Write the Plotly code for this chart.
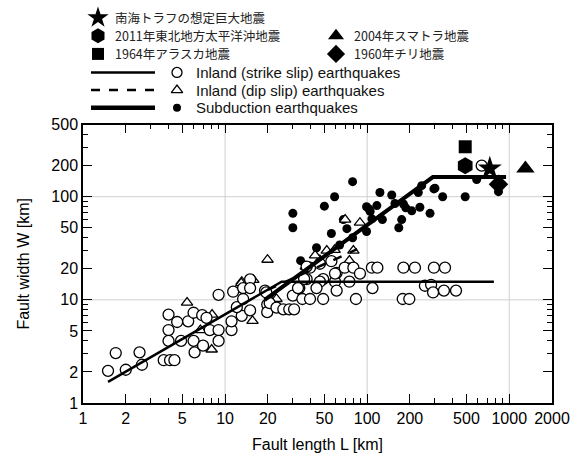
import math
import plotly.graph_objects as go

# ---------------- data ----------------
strike_slip_points = [
    (1.5, 2.05), (1.7, 3.05), (2.0, 2.1), (2.5, 3.1), (2.6, 2.35), (3.7, 2.6), (4.1, 2.6), (4.4, 2.6),
    (4.0, 7.2), (4.0, 5.1), (4.0, 4.0), (4.6, 6.1), (4.9, 4.0), (5.5, 6.2), (6.0, 7.5), (6.0, 4.0),
    (6.1, 3.1), (6.9, 7.1), (7.0, 3.6), (7.8, 5.1), (9.0, 5.1), (9.0, 4.0), (9.0, 11.2), (7.4, 6.7),
    (11.1, 5.1), (11.1, 6.2), (11.4, 12.0), (13.1, 7.0), (12.1, 8.5), (13.4, 13.0), (15.0, 15.8),
    (15.0, 13.0), (15.0, 7.9), (13.4, 10.2), (19.1, 12.3), (19.8, 9.0), (19.8, 7.6), (20.6, 9.3),
    (23.0, 8.4), (25.7, 8.1), (28.3, 8.1), (30.6, 8.1), (30.0, 11.0), (35.0, 10.2), (39.6, 10.2),
    (49.0, 10.2), (39.6, 20.5), (46.5, 22.4), (33.3, 13.0), (37.5, 15.9), (49.0, 15.9), (59.4, 15.0),
    (61.0, 12.3), (61.0, 18.3), (56.0, 23.7), (36.0, 16.0), (46.5, 15.0), (59.4, 18.0), (69.5, 20.5),
    (75.0, 15.0), (80.0, 20.5), (89.0, 18.0), (83.4, 10.2), (108, 20.5), (118, 20.5), (180, 20.5),
    (217, 20.5), (295, 20.5), (353, 20.5), (109, 13.0), (178, 10.2), (198, 10.2), (255, 13.7),
    (282, 14.0), (291, 11.8), (347, 12.3), (422, 12.3), (19.5, 11.8), (32.6, 13.0), (37.5, 21.0),
    (44.0, 13.0), (640, 200),
]
dip_slip_points = [
    (5.4, 9.4), (6.7, 5.1), (8.1, 7.2), (8.05, 3.3), (15.6, 6.25), (13.1, 15.0), (22.4, 10.2),
    (19.9, 24.5), (13.0, 14.5), (15.8, 15.6), (23.0, 10.2), (46.5, 24.3), (52.0, 30.0), (80.0, 30.0),
    (59.0, 30.5), (37.0, 21.0), (43.0, 27.0), (70.0, 60.0), (89.0, 56.0), (75.0, 24.0),
]
subduction_points = [
    (30, 69), (30, 50), (50, 81), (59, 100), (79, 140), (123, 110), (149, 104), (229, 110), (300, 121),
    (340, 100), (490, 100), (590, 147), (840, 112), (206, 73), (235, 79), (277, 69), (175, 60),
    (167, 50), (128, 60), (108, 61), (99, 80), (105, 72), (157, 86), (180, 85), (187, 78), (99, 46),
    (79, 40), (72, 49), (64, 34), (68, 60), (117, 82), (103, 76), (34, 24), (44, 32), (56, 44),
    (242, 128), (295, 119),
]

strike_line_L = [1.5, 25, 780]
strike_line_W = [1.6, 15, 15]
dip_line_L = [20, 85]
dip_line_W = [12.5, 31]
subduction_line_L = [19, 290, 950]
subduction_line_W = [10, 155, 155]

nankai_L, nankai_W = [730], [188]
tohoku_L, tohoku_W = [490], [200]
alaska_L, alaska_W = [490], [305]
sumatra_L, sumatra_W = [1300], [188]
chile_L, chile_W = [840], [132]

x_tick_vals = [1, 2, 5, 10, 20, 50, 100, 200, 500, 1000, 2000]
y_tick_vals = [1, 2, 5, 10, 20, 50, 100, 200, 500]
x_minor_vals = [3, 4, 6, 7, 8, 9, 30, 40, 60, 70, 80, 90, 300, 400, 600, 700, 800, 900]
y_minor_vals = [3, 4, 6, 7, 8, 9, 30, 40, 60, 70, 80, 90, 300, 400]
grid_x = [10, 100, 1000]
grid_y = [10, 100]

legend_jp = ["南海トラフの想定巨大地震", "2011年東北地方太平洋沖地震", "2004年スマトラ地震",
             "1964年アラスカ地震", "1960年チリ地震"]
legend_en = ["Inland (strike slip) earthquakes", "Inland (dip slip) earthquakes", "Subduction earthquakes"]


def split(pts):
    return [p[0] for p in pts], [p[1] for p in pts]


FONT = "Liberation Sans, Arial, sans-serif"
JP = "Noto Sans CJK JP, sans-serif"
W_, H_ = 579, 459
L_M, R_M, B_M = 83, 27, 56
paper_h = H_ - B_M
plot_top = 119
ydom_top = (paper_h - plot_top) / paper_h

fig = go.Figure()

sx, sy = split(subduction_points)
fig.add_trace(go.Scatter(x=sx, y=sy, mode="markers",
                         marker=dict(symbol="circle", size=9, color="black"), showlegend=False))
dx, dy = split(dip_slip_points)
fig.add_trace(go.Scatter(x=dx, y=dy, mode="markers",
                         marker=dict(symbol="triangle-up", size=10, color="white",
                                     line=dict(color="black", width=1.3)), showlegend=False))
cx, cy = split(strike_slip_points)
fig.add_trace(go.Scatter(x=cx, y=cy, mode="markers",
                         marker=dict(symbol="circle", size=11, color="white",
                                     line=dict(color="black", width=1.3)), showlegend=False))

fig.add_trace(go.Scatter(x=strike_line_L, y=strike_line_W, mode="lines",
                         line=dict(color="black", width=2.5), showlegend=False))
fig.add_trace(go.Scatter(x=dip_line_L, y=dip_line_W, mode="lines",
                         line=dict(color="black", width=2.5, dash="dash"), showlegend=False))
fig.add_trace(go.Scatter(x=subduction_line_L, y=subduction_line_W, mode="lines",
                         line=dict(color="black", width=4), showlegend=False))

special = [
    (nankai_L, nankai_W, "star", 18),
    (tohoku_L, tohoku_W, "hexagon", 17),
    (alaska_L, alaska_W, "square", 13),
    (sumatra_L, sumatra_W, "triangle-up", 16),
    (chile_L, chile_W, "diamond", 15),
]
for lx, ly, sym, sz in special:
    fig.add_trace(go.Scatter(x=lx, y=ly, mode="markers", cliponaxis=False,
                             marker=dict(symbol=sym, size=sz, color="black"), showlegend=False))

# ---------------- legend (drawn in a hidden pixel-space axis) ----------------
r1, r2, r3 = 10, 28.5, 47
leg_sym = [
    (98, r1, "star", 16), (98, r2, "hexagon", 15), (336, r2, "triangle-up", 14),
    (98, r3, "square", 12), (336, r3, "diamond", 14),
]
for lx, ly, sym, sz in leg_sym:
    fig.add_trace(go.Scatter(x=[lx], y=[ly], xaxis="x2", yaxis="y2", mode="markers", cliponaxis=False,
                             marker=dict(symbol=sym, size=sz, color="black"), showlegend=False))
jp_pos = [(113, r1), (113, r2), (352, r2), (113, r3), (352, r3)]
annotations = []
for (tx, ty), txt in zip(jp_pos, legend_jp):
    annotations.append(dict(x=tx, y=ty, xref="x2", yref="y2", text=txt, showarrow=False,
                            xanchor="left", yanchor="middle",
                            font=dict(family=JP, size=12.5, color="#222")))
row_y = [66, 84, 102]
row_sym = [dict(symbol="circle", size=10, color="white", line=dict(color="black", width=1.3)),
           dict(symbol="triangle-up", size=10, color="white", line=dict(color="black", width=1.3)),
           dict(symbol="circle", size=8, color="black")]
row_line = [dict(width=2.5), dict(width=2.5, dash="dash"), dict(width=4.5)]
shapes = []
for ry, ms, ln, txt in zip(row_y, row_sym, row_line, legend_en):
    fig.add_trace(go.Scatter(x=[177], y=[ry], xaxis="x2", yaxis="y2", mode="markers", cliponaxis=False,
                             marker=ms, showlegend=False))
    fig.add_trace(go.Scatter(x=[91, 155], y=[ry, ry], xaxis="x2", yaxis="y2", mode="lines", cliponaxis=False,
                             line=dict(color="black", **ln), showlegend=False))
    annotations.append(dict(x=194, y=ry, xref="x2", yref="y2", text=txt, showarrow=False,
                            xanchor="left", yanchor="middle",
                            font=dict(family=FONT, size=15, color="#111")))

# gridlines only at decades
for g in grid_x:
    shapes.append(dict(type="line", xref="x", yref="y domain", x0=g, x1=g, y0=0, y1=1,
                       line=dict(color="#cfcfcf", width=1), layer="below"))
for g in grid_y:
    shapes.append(dict(type="line", xref="x domain", yref="y", x0=0, x1=1, y0=g, y1=g,
                       line=dict(color="#cfcfcf", width=1), layer="below"))

axis_common = dict(type="log", showgrid=False, zeroline=False, showline=True, linecolor="black",
                   linewidth=1.5, mirror="ticks", ticks="inside", ticklen=9, tickwidth=1.2,
                   tickcolor="black", tickfont=dict(family=FONT, size=16, color="black"))

fig.update_layout(
    width=W_, height=H_,
    margin=dict(l=L_M, r=R_M, t=0, b=B_M),
    paper_bgcolor="white", plot_bgcolor="white",
    xaxis=dict(**axis_common, range=[0, math.log10(2000)], domain=[0, 1], anchor="y",
               tickvals=x_tick_vals, ticktext=[str(v) for v in x_tick_vals],
               minor=dict(tickvals=x_minor_vals, ticks="inside", ticklen=5, tickwidth=1.2,
                          tickcolor="black", showgrid=False),
               title=dict(text="Fault length L [km]", font=dict(family=FONT, size=16, color="black"),
                          standoff=13)),
    yaxis=dict(**axis_common, range=[0, math.log10(500)], domain=[0, ydom_top], anchor="x",
               tickvals=y_tick_vals, ticktext=[str(v) for v in y_tick_vals],
               minor=dict(tickvals=y_minor_vals, ticks="inside", ticklen=5, tickwidth=1.2,
                          tickcolor="black", showgrid=False),
               title=dict(text="Fault width W [km]", font=dict(family=FONT, size=16, color="black"),
                          standoff=18)),
    xaxis2=dict(range=[L_M, W_ - R_M], domain=[0, 1], anchor="y2", visible=False, fixedrange=True),
    yaxis2=dict(range=[plot_top, 0], domain=[ydom_top + 0.001, 1], anchor="x2", visible=False,
                fixedrange=True),
    shapes=shapes,
    annotations=annotations,
    showlegend=False,
)

fig.write_html("out.html")
